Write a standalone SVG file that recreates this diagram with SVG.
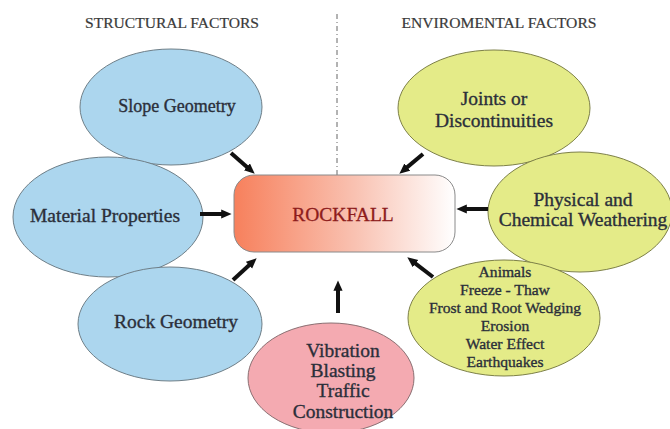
<svg xmlns="http://www.w3.org/2000/svg" width="670" height="429" viewBox="0 0 670 429">
<style>
.blue{fill:#acd6ee;stroke:#6f7f88;stroke-width:1}
.yel{fill:#e4eb88;stroke:#7d8048;stroke-width:1}
.pink{fill:#f4aab1;stroke:#8a6f72;stroke-width:1}
text{fill:#2b2f3a;text-anchor:middle}
.t{font-size:19.5px;stroke:#2b2f3a;stroke-width:0.35}
.s{font-size:15.6px;stroke:#2b2f3a;stroke-width:0.35}
.h{font-size:14px;fill:#3a3a3a;stroke:#3a3a3a;stroke-width:0.2}
.arr{stroke:#111;stroke-width:4;fill:none;marker-end:url(#ah)}
</style>
<defs>
<linearGradient id="rg" x1="0" y1="0" x2="1" y2="0">
<stop offset="0" stop-color="#f7805c"/>
<stop offset="0.55" stop-color="#f9c2b2"/>
<stop offset="1" stop-color="#ffffff"/>
</linearGradient>
<marker id="ah" markerWidth="3" markerHeight="3" refX="0.2" refY="1.15" orient="auto" markerUnits="strokeWidth">
<path d="M0,0 L2.6,1.15 L0,2.3 z" fill="#111"/>
</marker>
</defs>
<rect width="670" height="429" fill="#fff"/>
<g font-family="'Liberation Serif', 'DejaVu Serif', serif">
<g id="titles">
<text class="h" x="172" y="28" textLength="174" lengthAdjust="spacingAndGlyphs">STRUCTURAL FACTORS</text>
<text class="h" x="499" y="28" textLength="195" lengthAdjust="spacingAndGlyphs">ENVIROMENTAL FACTORS</text>
<line x1="337" y1="14" x2="337" y2="175" stroke="#666" stroke-width="1" stroke-dasharray="5,3,1,3"/>
</g>
<g id="slope"><ellipse class="blue" cx="171" cy="107" rx="91" ry="58"/><text class="t" x="177" y="112" style="font-size:18px">Slope Geometry</text></g>
<g id="material"><ellipse class="blue" cx="108" cy="217" rx="95" ry="60"/><text class="t" x="105" y="222">Material Properties</text></g>
<g id="rock"><ellipse class="blue" cx="170" cy="324" rx="92" ry="57"/><text class="t" x="176" y="328">Rock Geometry</text></g>
<g id="joints"><ellipse class="yel" cx="494" cy="108" rx="96" ry="58"/><text class="t" x="494" y="105">Joints or</text><text class="t" x="494" y="127">Discontinuities</text></g>
<g id="physical"><ellipse class="yel" cx="580" cy="212" rx="92" ry="60"/><text class="t" x="583" y="206">Physical and</text><text class="t" x="583" y="226">Chemical Weathering</text></g>
<g id="environment"><ellipse class="yel" cx="504" cy="318" rx="96" ry="58"/>
<text class="s" x="505" y="277">Animals</text>
<text class="s" x="505" y="295">Freeze - Thaw</text>
<text class="s" x="505" y="313">Frost and Root Wedging</text>
<text class="s" x="505" y="331">Erosion</text>
<text class="s" x="505" y="349">Water Effect</text>
<text class="s" x="505" y="367">Earthquakes</text>
</g>
<g id="vibration"><ellipse class="pink" cx="331" cy="378" rx="83" ry="55"/>
<text class="t" x="343" y="357">Vibration</text>
<text class="t" x="343" y="377">Blasting</text>
<text class="t" x="343" y="397">Traffic</text>
<text class="t" x="343" y="418">Construction</text>
</g>
<g id="rockfall"><rect x="234" y="175" width="221" height="77" rx="20" fill="url(#rg)" stroke="#8a8a8a" stroke-width="1"/>
<text x="343" y="221" style="font-size:19.5px;fill:#8e1c1c;stroke:#8e1c1c;stroke-width:0.3">ROCKFALL</text></g>
</g>
<g id="connectors">
<line class="arr" x1="231" y1="153" x2="247.5" y2="167.4"/>
<line class="arr" x1="200" y1="214" x2="222" y2="214"/>
<line class="arr" x1="233" y1="280" x2="249.6" y2="264.7"/>
<line class="arr" x1="338" y1="313" x2="338" y2="290"/>
<line class="arr" x1="423" y1="154" x2="406.7" y2="167.6"/>
<line class="arr" x1="488" y1="209" x2="466" y2="209"/>
<line class="arr" x1="433" y1="277" x2="414.9" y2="263.1"/>
</g>
</svg>
